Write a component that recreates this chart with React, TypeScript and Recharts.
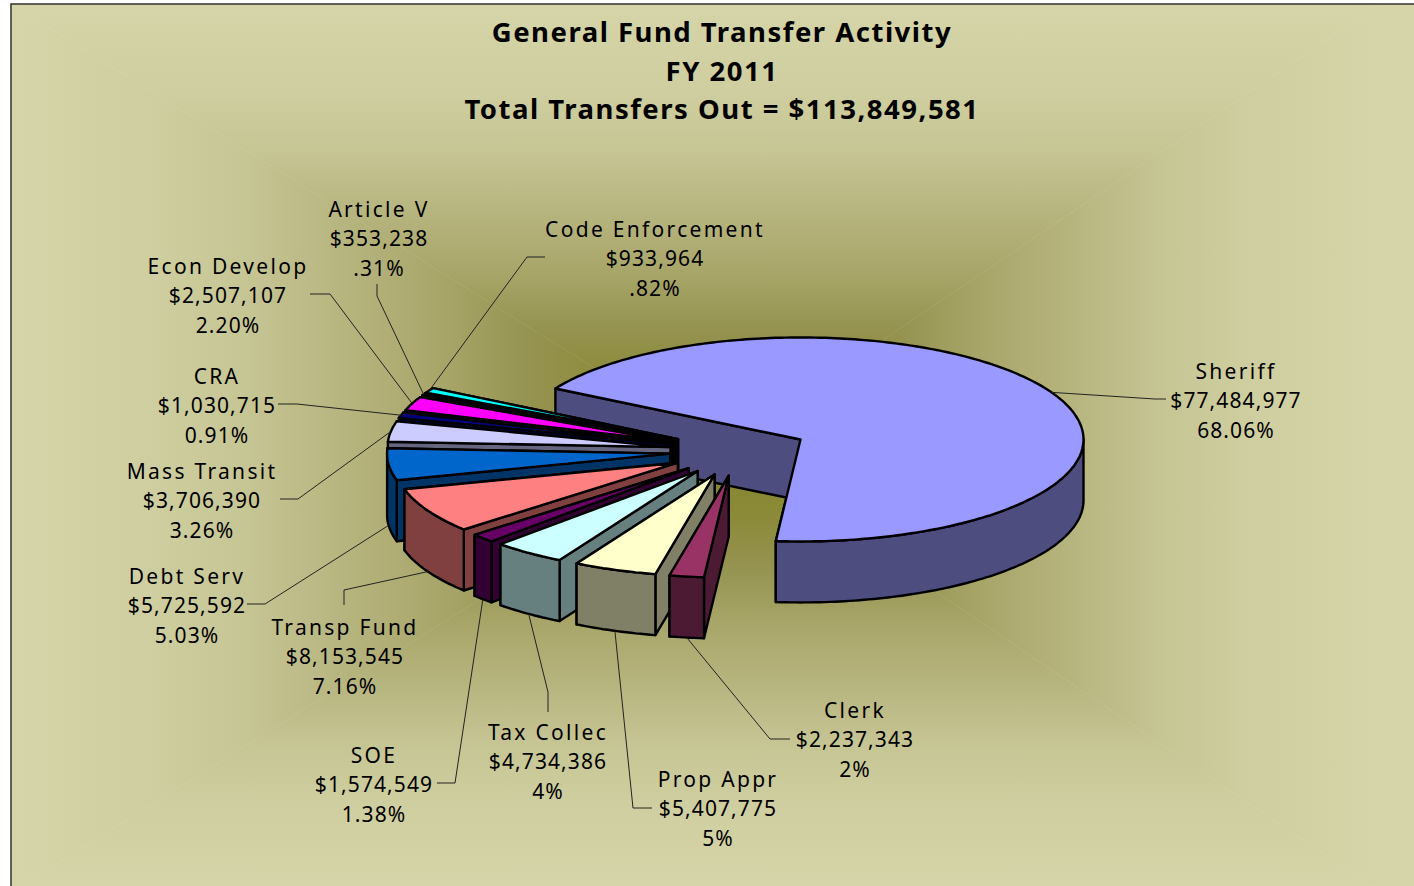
import React from 'react';
import { PieChart, Pie, Cell } from 'recharts';

const WIDTH = 1414;
const HEIGHT = 886;

// drawn back to front, so Sheriff first and then the fan from Code Enforcement round to Clerk
const NAMES = ['Sheriff', 'Code Enforcement', 'Article V', 'Econ Develop', 'CRA', 'Mass Transit', 'Debt Serv', 'Transp Fund', 'SOE', 'Tax Collec', 'Prop Appr', 'Clerk'];
const VALUES = [77484977, 933964, 353238, 2507107, 1030715, 3706390, 5725592, 8153545, 1574549, 4734386, 5407775, 2237343];
const AMOUNTS = ['$77,484,977', '$933,964', '$353,238', '$2,507,107', '$1,030,715', '$3,706,390', '$5,725,592', '$8,153,545', '$1,574,549', '$4,734,386', '$5,407,775', '$2,237,343'];
const PERCENTS = ['68.06%', '.82%', '.31%', '2.20%', '0.91%', '3.26%', '5.03%', '7.16%', '1.38%', '4%', '5%', '2%'];
const TOP_COLORS = ['#9999ff', '#00ffff', '#ffff00', '#ff00ff', '#000080', '#ccccff', '#0066cc', '#ff8080', '#660066', '#ccffff', '#ffffcc', '#993366'];
const WALL_COLORS = ['#4d4d80', '#008080', '#808000', '#800080', '#000040', '#666680', '#003366', '#804040', '#330033', '#668080', '#808066', '#4d1a33'];

const TITLE_LINES = ['General Fund Transfer Activity', 'FY 2011', 'Total Transfers Out = $113,849,581'];

const pieData = NAMES.map((name, i) => ({ name, value: VALUES[i], amount: AMOUNTS[i], percent: PERCENTS[i], wall: WALL_COLORS[i] }));

// fake 3D settings
const SQUASH = 102 / 283;
const DEPTH = 61;
const EXPLODE = 0.245;
const RAD = Math.PI / 180;

// label centre and the two leader bends, per slice
const LABEL_LAYOUT: Record<string, { x: number; y: number; bends: number[][] }> = {
  Sheriff: { x: 1236, y: 372, bends: [[1155, 399], [1166, 399]] },
  'Code Enforcement': { x: 655, y: 230, bends: [[527, 257], [545, 257]] },
  'Article V': { x: 379, y: 210, bends: [[377, 296], [377, 284]] },
  'Econ Develop': { x: 228, y: 267, bends: [[330, 294], [310, 294]] },
  CRA: { x: 217, y: 377, bends: [[297, 404], [278, 404]] },
  'Mass Transit': { x: 202, y: 472, bends: [[298, 499], [280, 499]] },
  'Debt Serv': { x: 187, y: 577, bends: [[265, 604], [247, 604]] },
  'Transp Fund': { x: 345, y: 628, bends: [[344, 590], [344, 605]] },
  SOE: { x: 374, y: 756, bends: [[455, 783], [437, 783]] },
  'Tax Collec': { x: 548, y: 733, bends: [[548, 692], [548, 712]] },
  'Prop Appr': { x: 718, y: 780, bends: [[633, 808], [652, 808]] },
  Clerk: { x: 855, y: 711, bends: [[770, 739], [790, 739]] },
};

const rimPoint = (cx: number, cy: number, r: number, deg: number) => [
  cx + r * Math.cos(deg * RAD),
  cy - r * SQUASH * Math.sin(deg * RAD),
];

const toPath = (pts: number[][]) => pts.map((p, i) => `${i ? 'L' : 'M'}${p[0].toFixed(1)},${p[1].toFixed(1)}`).join(' ') + ' Z';

const Slice3D = (props: any) => {
  const { cx, cy, outerRadius, startAngle, endAngle, midAngle, fill, payload } = props;
  const wall = props.wall || payload?.wall;
  const mid = midAngle ?? (startAngle + endAngle) / 2;
  const apex = rimPoint(cx, cy, outerRadius * EXPLODE, mid);
  const lo = Math.min(startAngle, endAngle);
  const hi = Math.max(startAngle, endAngle);

  const arc: number[][] = [];
  const front: number[][] = [];
  for (let a = lo; ; a += 1) {
    const deg = Math.min(a, hi);
    const p = rimPoint(apex[0], apex[1], outerRadius, deg);
    arc.push(p);
    if (Math.sin(deg * RAD) <= 0) front.push(p);
    if (deg >= hi) break;
  }
  const down = (p: number[]) => [p[0], p[1] + DEPTH];
  const first = arc[0];
  const last = arc[arc.length - 1];
  const line = { stroke: '#000', strokeWidth: 2.4, strokeLinejoin: 'round' as const };

  return (
    <g>
      <path d={toPath([apex, first, down(first), down(apex)])} fill={wall} {...line} />
      <path d={toPath([apex, last, down(last), down(apex)])} fill={wall} {...line} />
      {front.length > 1 && <path d={toPath([...front, ...front.map(down).reverse()])} fill={wall} {...line} />}
      <path d={toPath([apex, ...arc])} fill={fill} {...line} />
    </g>
  );
};

const SliceLabel = (props: any) => {
  const { cx, cy, outerRadius, midAngle, payload } = props;
  const item = payload?.payload ?? payload;
  const layout = LABEL_LAYOUT[item.name];
  const apex = rimPoint(cx, cy, outerRadius * EXPLODE, midAngle);
  const rim = rimPoint(apex[0], apex[1], outerRadius, midAngle);
  if (Math.sin(midAngle * RAD) < 0) rim[1] += DEPTH;
  const pts = [rim, ...layout.bends].map((p) => p.join(',')).join(' ');
  const textStyle = { fontFamily: 'Noto Sans', fontSize: 21, fill: '#000' };
  return (
    <g>
      <polyline points={pts} fill="none" stroke="#222" strokeWidth={1} />
      <text x={layout.x} y={layout.y + 7} textAnchor="middle" letterSpacing={2.3} style={textStyle}>{item.name}</text>
      <text x={layout.x} y={layout.y + 36} textAnchor="middle" letterSpacing={1.1} style={textStyle}>{item.amount}</text>
      <text x={layout.x} y={layout.y + 66} textAnchor="middle" letterSpacing={1.1} style={textStyle}>{item.percent}</text>
    </g>
  );
};

// rectangular "from centre" fill like the Excel plot background
const FRAME = { left: 11, top: 4, right: 1380, bottom: 892, cx: 723, cy: 448 };
const BG_STOPS = [
  [0, '#d5d5a9'],
  [0.2, '#cfcea0'],
  [0.33, '#c6c594'],
  [0.44, '#bab883'],
  [0.55, '#aeac72'],
  [0.64, '#a3a162'],
  [0.73, '#959350'],
  [0.85, '#8b8a38'],
  [1, '#85852a'],
];

const Background = () => {
  const { left, top, right, bottom, cx, cy } = FRAME;
  const sides = [
    { id: 'bgL', pts: `${left},${top} ${left},${bottom} ${cx},${cy}`, x1: left, y1: 0, x2: cx, y2: 0 },
    { id: 'bgR', pts: `${right},${top} ${right},${bottom} ${cx},${cy}`, x1: right, y1: 0, x2: cx, y2: 0 },
    { id: 'bgT', pts: `${left},${top} ${right},${top} ${cx},${cy}`, x1: 0, y1: top, x2: 0, y2: cy },
    { id: 'bgB', pts: `${left},${bottom} ${right},${bottom} ${cx},${cy}`, x1: 0, y1: bottom, x2: 0, y2: cy },
  ];
  return (
    <svg width={WIDTH} height={HEIGHT} style={{ position: 'absolute', left: 0, top: 0 }}>
      <defs>
        {sides.map((s) => (
          <linearGradient key={s.id} id={s.id} gradientUnits="userSpaceOnUse" x1={s.x1} y1={s.y1} x2={s.x2} y2={s.y2}>
            {BG_STOPS.map(([o, c]) => <stop key={o} offset={o} stopColor={c as string} />)}
          </linearGradient>
        ))}
      </defs>
      <rect width={WIDTH} height={HEIGHT} fill="#fff" />
      {/* strip past the gradient's right edge stays at the lightest colour */}
      <rect x={right} y={top} width={WIDTH - right} height={HEIGHT} fill="#d5d5a9" />
      {sides.map((s) => <polygon key={s.id} points={s.pts} fill={`url(#${s.id})`} stroke={`url(#${s.id})`} strokeWidth={0.5} />)}
      <polyline points={`${WIDTH},${top} ${left},${top} ${left},${HEIGHT}`} fill="none" stroke="#333" strokeWidth={1.5} />
      {TITLE_LINES.map((t, i) => (
        <text key={t} x={722} y={42 + i * 38.5} textAnchor="middle" letterSpacing={1.5} fontFamily="Noto Sans" fontWeight={700} fontSize={27.5} fill="#000">{t}</text>
      ))}
    </svg>
  );
};

export default function App() {
  return (
    <div style={{ position: 'absolute', left: 0, top: 0, width: WIDTH, height: HEIGHT, overflow: 'hidden' }}>
      <Background />
      <div style={{ position: 'absolute', left: 0, top: 0 }}>
        <PieChart width={WIDTH} height={HEIGHT} margin={{ top: 0, right: 0, bottom: 0, left: 0 }}>
          <Pie
            data={pieData}
            dataKey="value"
            nameKey="name"
            cx={739}
            cy={451}
            outerRadius={283}
            startAngle={-95}
            endAngle={265}
            paddingAngle={0}
            stroke="none"
            shape={Slice3D}
            label={SliceLabel}
            labelLine={false}
            isAnimationActive={false}
          >
            {pieData.map((d, i) => <Cell key={d.name} fill={TOP_COLORS[i]} />)}
          </Pie>
        </PieChart>
      </div>
    </div>
  );
}
